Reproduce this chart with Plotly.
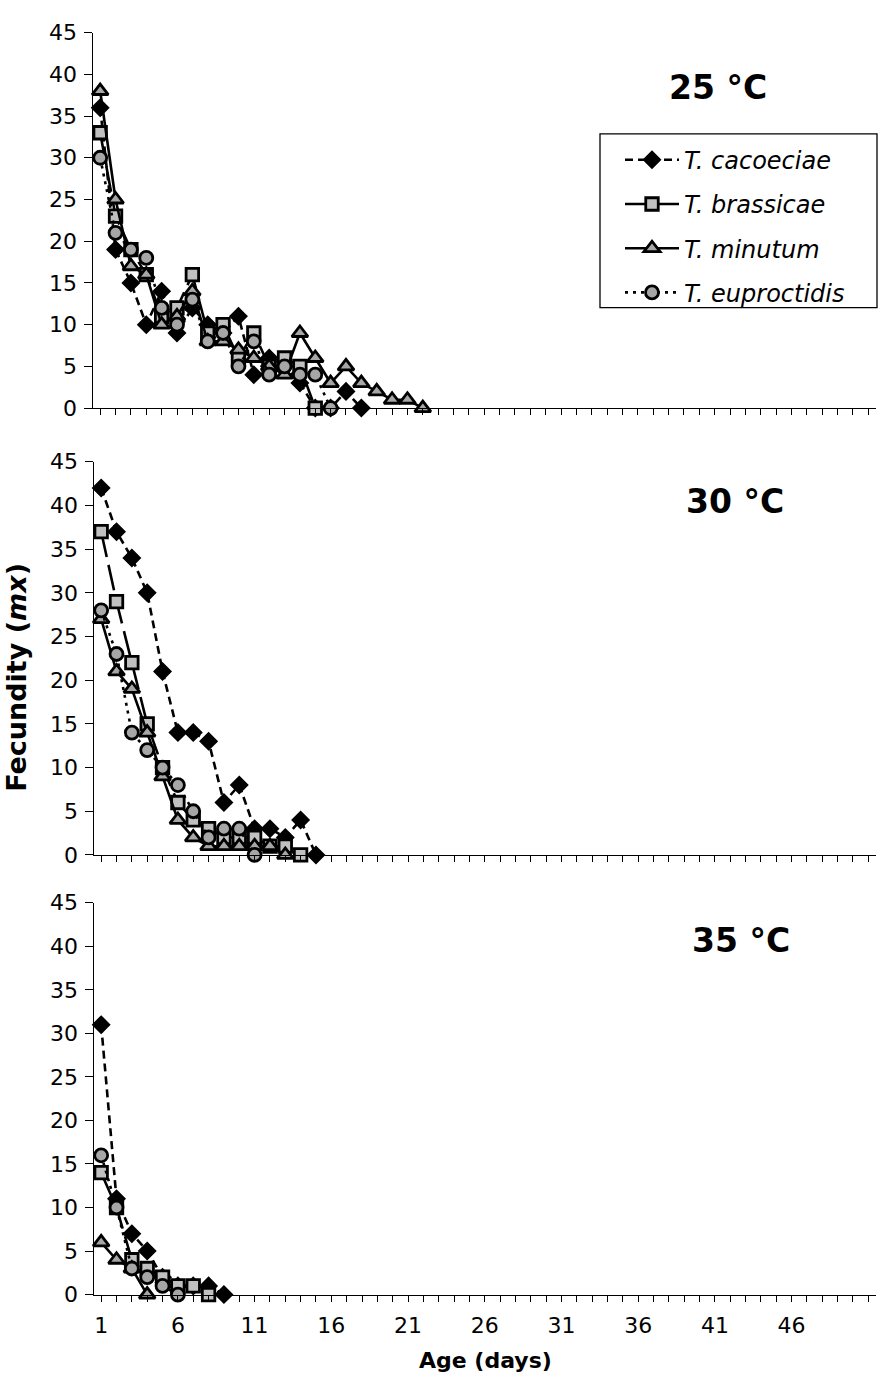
import plotly.graph_objects as go

# ---------------- data ----------------
days_max = 51
x_tick_labels = [1, 6, 11, 16, 21, 26, 31, 36, 41, 46]
panel_titles = ["25 °C", "30 °C", "35 °C"]
species = ["T. cacoeciae", "T. brassicae", "T. minutum", "T. euproctidis"]

# 25 °C
cac_25 = [36, 19, 15, 10, 14, 9, 12, 10, 9, 11, 4, 6, 5, 3, 0, 0, 2, 0]
bra_25 = [33, 23, 19, 16, 11, 12, 16, 9, 10, 6, 9, 5, 6, 5, 0]
min_25 = [38, 25, 17, 16, 10, 11, 14, 8, 8, 7, 6, 5, 4, 9, 6, 3, 5, 3, 2, 1, 1, 0]
eup_25 = [30, 21, 19, 18, 12, 10, 13, 8, 9, 5, 8, 4, 5, 4, 4, 0]

# 30 °C
cac_30 = [42, 37, 34, 30, 21, 14, 14, 13, 6, 8, 3, 3, 2, 4, 0]
bra_30 = [37, 29, 22, 15, 10, 6, 4, 3, 2, 2, 2, 1, 1, 0]
min_30 = [27, 21, 19, 14, 9, 4, 2, 1, 1, 1, 1, 1, 0]
eup_30 = [28, 23, 14, 12, 10, 8, 5, 2, 3, 3, 0]

# 35 °C
cac_35 = [31, 11, 7, 5, 2, 1, 1, 1, 0]
bra_35 = [14, 10, 4, 3, 2, 1, 1, 0]
min_35 = [6, 4, 3, 0]
eup_35 = [16, 10, 3, 2, 1, 0]

panels = [
    [cac_25, bra_25, min_25, eup_25],
    [cac_30, bra_30, min_30, eup_30],
    [cac_35, bra_35, min_35, eup_35],
]

# ---------------- styles ----------------
W, H = 890, 1395
FONT = "DejaVu Sans"
styles = [
    dict(symbol="diamond", fill="#000000", dash="8px,5px", size=13, lw=1.5),
    dict(symbol="square", fill="#c0c0c0", dash="26px,8px", size=12.5, lw=2.8),
    dict(symbol="triangle-up", fill="#a6a6a6", dash="solid", size=14, lw=2.8),
    dict(symbol="circle", fill="#a6a6a6", dash="3px,5px", size=13, lw=2.8),
]

# pixel layout of each panel: (x_left, x_right, y_top, y_bottom)
boxes = [
    (92.5, 876, 21, 403.3),
    (93.5, 876, 458, 858.3),
    (93.5, 876, 907, 1306),
]

fig = go.Figure()
for p, series in enumerate(panels):
    xa = "x" if p == 0 else f"x{p+1}"
    ya = "y" if p == 0 else f"y{p+1}"
    for s, vals in enumerate(series):
        st = styles[s]
        fig.add_trace(go.Scatter(
            x=list(range(1, len(vals) + 1)), y=vals,
            xaxis=xa, yaxis=ya,
            mode="lines+markers",
            name=f"<i>{species[s]}</i>",
            legendgroup=species[s],
            showlegend=(p == 0),
            cliponaxis=False,
            line=dict(color="black", width=2.6, dash=st["dash"]),
            marker=dict(symbol=st["symbol"], size=st["size"], color=st["fill"],
                        line=dict(color="black", width=st["lw"])),
        ))

tickvals = list(range(1, days_max + 1))
ticktext = [str(v) if v in x_tick_labels else "" for v in tickvals]

layout = dict(
    width=W, height=H,
    margin=dict(l=0, r=0, t=0, b=0),
    paper_bgcolor="white", plot_bgcolor="white",
    font=dict(family=FONT, size=20, color="black"),
    showlegend=True,
    legend=dict(
        x=620 / W, y=1 - 128 / H, xanchor="left", yanchor="top",
        borderwidth=0,
        font=dict(family=FONT, size=24, color="black"),
        itemwidth=54, tracegroupgap=10,
        bgcolor="rgba(0,0,0,0)",
    ),
    shapes=[dict(type="rect", xref="paper", yref="paper",
                 x0=600 / W, x1=877 / W, y0=1 - 301 / H, y1=1 - 124 / H,
                 line=dict(color="black", width=1.3), fillcolor="white", layer="below")],
)
for p, (xl, xr, yt, yb) in enumerate(boxes):
    xk = "xaxis" if p == 0 else f"xaxis{p+1}"
    yk = "yaxis" if p == 0 else f"yaxis{p+1}"
    ya = "y" if p == 0 else f"y{p+1}"
    xa = "x" if p == 0 else f"x{p+1}"
    layout[xk] = dict(
        domain=[xl / W, xr / W], anchor=ya,
        range=[0.5, days_max + 0.5],
        tickmode="array", tickvals=tickvals, ticktext=ticktext,
        showticklabels=(p == 2),
        ticks="outside", ticklen=6, tickwidth=1, tickcolor="black",
        showline=True, linecolor="black", linewidth=1,
        showgrid=False, zeroline=False,
        tickfont=dict(family=FONT, size=22, color="black"),
        ticklabelstandoff=5,
    )
    layout[yk] = dict(
        domain=[1 - yb / H, 1 - yt / H], anchor=xa,
        range=[0, 45], tickmode="linear", tick0=0, dtick=5,
        ticks="outside", ticklen=8, tickwidth=1, tickcolor="black",
        showline=True, linecolor="black", linewidth=1,
        showgrid=False, zeroline=False,
        tickfont=dict(family=FONT, size=22, color="black"),
        ticklabelstandoff=2,
    )
fig.update_layout(**layout)

# panel titles
title_pos = [(718, 77), (735, 498), (741, 945)]
for t, (tx, ty) in zip(panel_titles, title_pos):
    fig.add_annotation(x=tx / W, y=1 - ty / H, xref="paper", yref="paper",
                       xanchor="center", yanchor="middle",
                       text=f"<b>{t}</b>", showarrow=False,
                       font=dict(family=FONT, size=33, color="black"))

fig.add_annotation(x=485 / W, y=1 - 1373 / H, xref="paper", yref="paper",
                   xanchor="center", yanchor="middle",
                   text="<b>Age (days)</b>", showarrow=False,
                   font=dict(family=FONT, size=22, color="black"))
fig.add_annotation(x=17 / W, y=1 - 678 / H, xref="paper", yref="paper",
                   xanchor="center", yanchor="middle",
                   text="<b>Fecundity (<i>mx</i>)</b>", showarrow=False, textangle=-90,
                   font=dict(family=FONT, size=27, color="black"))

fig.write_html("out.html", config={"displayModeBar": False},
               post_script="document.body.style.margin='0';")
